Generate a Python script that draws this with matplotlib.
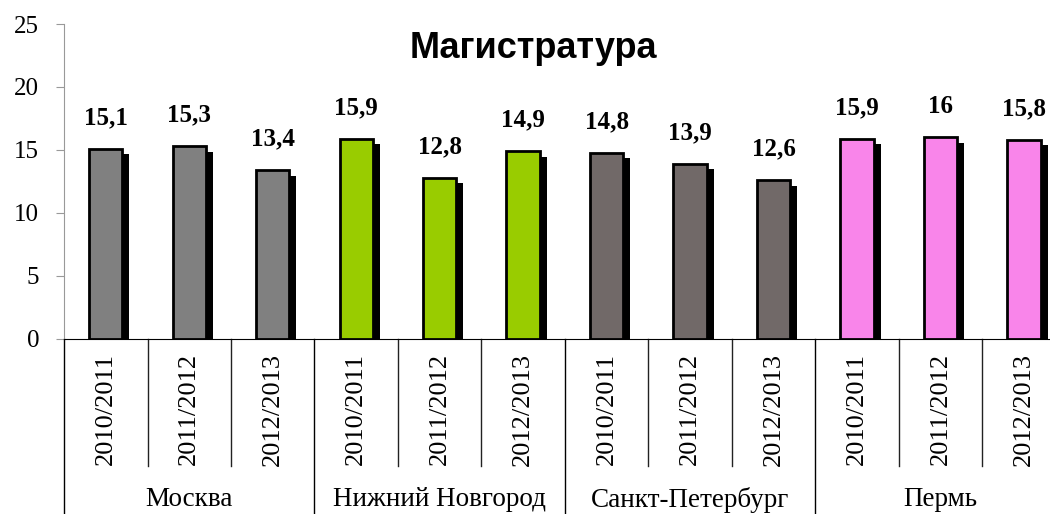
import matplotlib
matplotlib.use("Agg")
import matplotlib.pyplot as plt
import matplotlib.patheffects as pe
import numpy as np

cities = ["Москва", "Нижний Новгород", "Санкт-Петербург", "Пермь"]
years = ["2010/2011", "2011/2012", "2012/2013"]
values = [15.1, 15.3, 13.4,
          15.9, 12.8, 14.9,
          14.8, 13.9, 12.6,
          15.9, 16.0, 15.8]
city_colors = ["#808080", "#99cc00", "#716968", "#f985ea"]

plt.rcParams["font.family"] = ["Liberation Serif", "DejaVu Serif"]

fig = plt.figure(figsize=(10.5, 5.14), dpi=100)
ax = fig.add_axes([0.061, 0.3405, 0.954, 0.6128])

n = len(values)
x = np.arange(n)
colors = [c for c in city_colors for _ in years]

bars = ax.bar(x, values, width=0.4, color=colors, edgecolor="black", linewidth=2, zorder=3)
for b in bars:
    b.set_path_effects([pe.SimplePatchShadow(offset=(5, -4), shadow_rgbFace="black", alpha=1.0),
                        pe.Normal()])

for xi, v in zip(x, values):
    txt = ("%g" % v).replace(".", ",")
    ax.annotate(txt, (xi, v), xytext=(0, 14), textcoords="offset points",
                ha="center", va="bottom", fontsize=18, fontweight="bold")

ax.set_xlim(-0.5, n - 0.5)
ax.set_ylim(0, 25)
ax.set_yticks([0, 5, 10, 15, 20, 25])
ax.tick_params(axis="y", labelsize=18, length=6, color="#999999", pad=12)
ax.set_xticks(x)
ax.set_xticklabels(years * len(cities), rotation=90, fontsize=19)
ax.tick_params(axis="x", length=0, pad=10)

for s in ["top", "right"]:
    ax.spines[s].set_visible(False)
ax.spines["left"].set_color("#999999")
ax.spines["bottom"].set_color("black")

trans = ax.get_xaxis_transform()
for i in range(n + 1):
    xs = i - 0.5
    if i % 3 == 0:
        ax.plot([xs, xs], [0, -0.6], transform=trans, color="black", lw=1, clip_on=False)
    else:
        ax.plot([xs, xs], [0, -0.403], transform=trans, color="#222222", lw=1, clip_on=False)

for k, city in enumerate(cities):
    ax.text(3 * k + 1, -0.511, city, transform=trans, ha="center", va="center", fontsize=19.5)

fig.text(0.508, 0.905, "Магистратура", ha="center", va="center",
         fontsize=26, fontweight="bold", family=["Liberation Sans", "DejaVu Sans"])

fig.savefig("out.png", dpi=100)
